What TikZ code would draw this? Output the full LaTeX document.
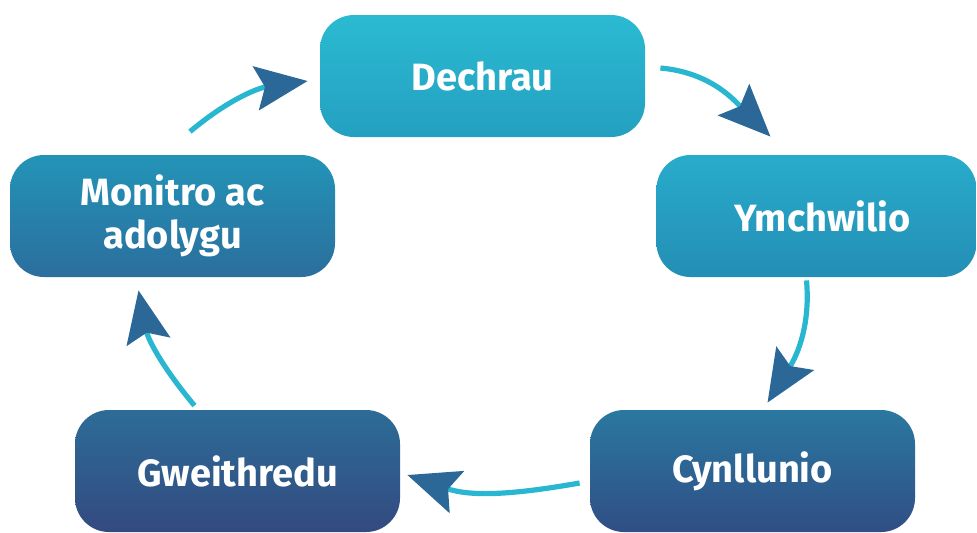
\documentclass[tikz,border=0pt]{standalone}
\usepackage{fontspec}
\setmainfont{Fira Sans}
\usetikzlibrary{arrows.meta,positioning}
\definecolor{dechrauhaut}{RGB}{43,186,210}
\definecolor{dechraubas}{RGB}{36,160,192}
\definecolor{ymchhaut}{RGB}{40,172,203}
\definecolor{ymchbas}{RGB}{36,142,181}
\definecolor{monhaut}{RGB}{35,148,183}
\definecolor{monbas}{RGB}{43,110,157}
\definecolor{cynhaut}{RGB}{42,120,160}
\definecolor{cynbas}{RGB}{48,78,133}
\definecolor{gwehaut}{RGB}{45,108,151}
\definecolor{gwebas}{RGB}{51,74,128}
\definecolor{flechecyan}{RGB}{41,182,208}
\definecolor{flechebleu}{RGB}{43,104,152}
\tikzset{
  etape/.style 2 args={rounded corners=17pt, minimum width=162.5pt, minimum height=61pt,
    inner sep=0pt, top color=#1, bottom color=#2, text=white, align=center,
    font=\fontsize{19}{21.5}\selectfont\bfseries},
  fleche/.style={line width=2.6pt, flechecyan,
    -{Stealth[length=26pt,width=22pt,inset=4.5pt,color=flechebleu]}}
}
\begin{document}
\begin{tikzpicture}[x=0.5pt,y=0.5pt]
\useasboundingbox (0,0) rectangle (977,-532);
\node[etape={dechrauhaut}{dechraubas}] (dechrau) at (482.5,-76) {Dechrau};
\node[etape={ymchhaut}{ymchbas},minimum width=160pt] (ymchwilio) at (816.5,-216) {\hspace*{6pt}Ymchwilio};
\node[etape={cynhaut}{cynbas}] (cynllunio) at (752.5,-471) {Cynllunio};
\node[etape={gwehaut}{gwebas}] (gweithredu) at (237.5,-471) {Gweithredu};
\node[etape={monhaut}{monbas}] (monitro) at (172.5,-216) {Monitro ac\\adolygu};
\coordinate (f1a) at ([shift={(15,8)}]dechrau.east);
\coordinate (f1b) at ([shift={(-46,18)}]ymchwilio.north);
\coordinate (f2a) at ([shift={(-10,-3)}]ymchwilio.south);
\coordinate (f2b) at ([shift={(15,7)}]cynllunio.north);
\coordinate (f3a) at ([shift={(-10,-12)}]cynllunio.west);
\coordinate (f3b) at ([shift={(7,-4)}]gweithredu.east);
\coordinate (f4a) at ([shift={(-43,4)}]gweithredu.north);
\coordinate (f4b) at ([shift={(-34,-13)}]monitro.south);
\coordinate (f5a) at ([shift={(17.5,23)}]monitro.north);
\coordinate (f5b) at ([shift={(-12,-5)}]dechrau.west);
\draw[fleche] (f1a) to[out=-5,in=135] (f1b);
\draw[fleche] (f2a) to[out=-85,in=58] (f2b);
\draw[fleche] (f3a) to[out=190,in=-19] (f3b);
\draw[fleche] (f4a) to[out=130,in=-79] (f4b);
\draw[fleche] (f5a) to[out=40,in=188] (f5b);
\end{tikzpicture}
\end{document}
